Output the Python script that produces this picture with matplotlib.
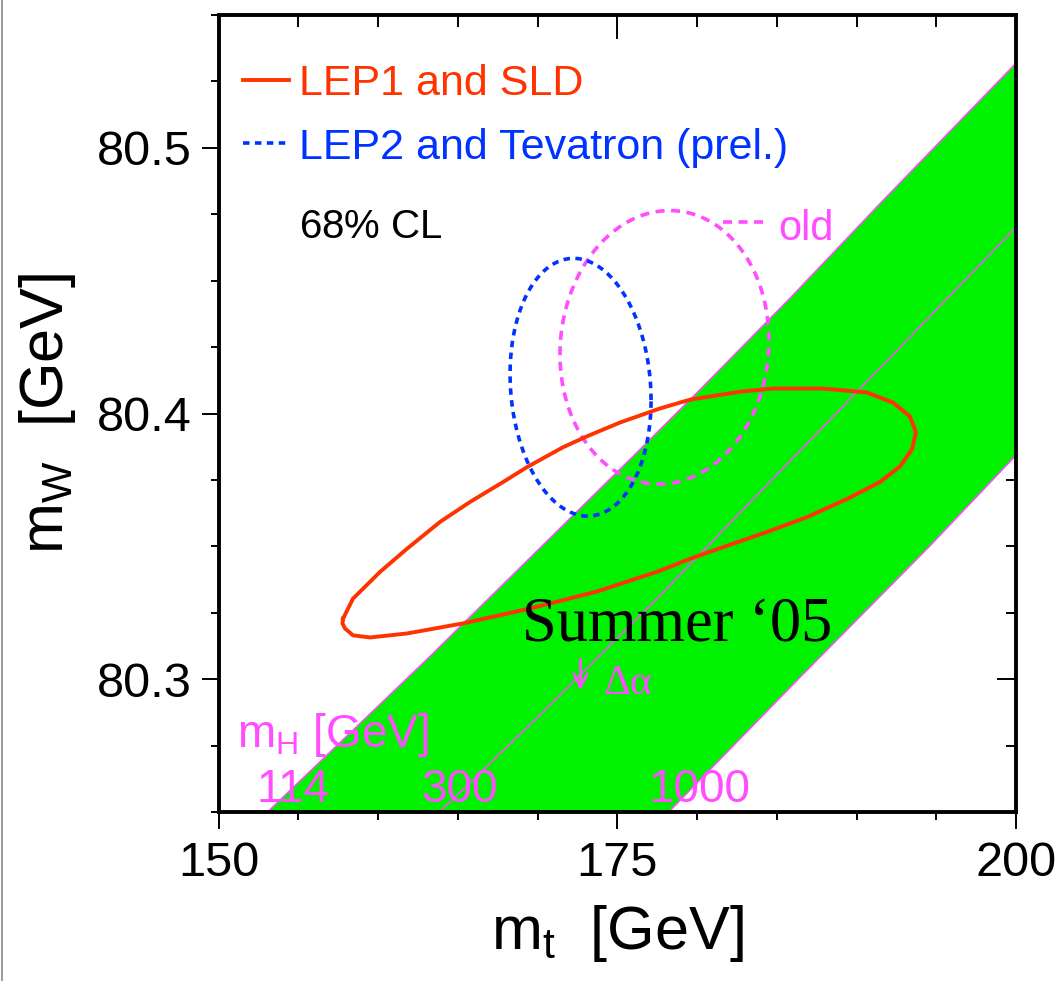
import numpy as np
import matplotlib
matplotlib.use("Agg")
import matplotlib.pyplot as plt
from matplotlib.lines import Line2D
from matplotlib.ticker import MultipleLocator

plt.rcParams['font.family'] = ['Liberation Sans', 'DejaVu Sans']
plt.rcParams['mathtext.fontset'] = 'custom'
plt.rcParams['mathtext.rm'] = 'Liberation Sans'
plt.rcParams['mathtext.it'] = 'Liberation Serif:italic'

# =====================================================
# DATA
# =====================================================

# SM band edges, m_H = 114 / 300 / 1000 GeV
mh114_mt = [152.2, 153.23, 163.26, 176.43, 180.19, 185.83, 191.47, 199.94, 201.0]
mh114_mw = [80.245, 80.2509, 80.3086, 80.3865, 80.4090, 80.4434, 80.4790, 80.5315, 80.538]

mh300_mt = [163.0, 164.01, 169.97, 177.68, 191.97, 199.94, 201.0]
mh300_mw = [80.245, 80.2509, 80.2854, 80.3315, 80.4202, 80.4697, 80.4763]

mh1000_mt = [177.4, 178.37, 186.46, 194.61, 199.94, 201.0]
mh1000_mw = [80.245, 80.2509, 80.3007, 80.3502, 80.3839, 80.3902]

# LEP1 and SLD 68% contour
lep1_mt = [157.81, 158.43, 160.13, 161.82, 163.89, 165.77, 167.84, 169.34,
           171.60, 173.10, 175.17, 177.68, 179.56, 182.70, 184.76, 187.90,
           190.66, 192.29, 193.35, 193.73, 193.48, 192.73, 191.47, 189.40,
           186.90, 184.39, 181.88, 179.56, 177.68, 173.73, 169.53, 165.33,
           161.82, 159.50, 158.43, 157.93, 157.77, 157.81]
lep1_mw = [80.3228, 80.3303, 80.3404, 80.3491, 80.3592, 80.3667, 80.3742, 80.3798,
           80.3873, 80.3914, 80.3966, 80.4019, 80.4052, 80.4082, 80.4094, 80.4094,
           80.4079, 80.4041, 80.3989, 80.3929, 80.3865, 80.3801, 80.3742, 80.3678,
           80.3610, 80.3554, 80.3502, 80.3453, 80.3408, 80.3330, 80.3266, 80.3210,
           80.3172, 80.3157, 80.3165, 80.3191, 80.3210, 80.3228]

# LEP2 and Tevatron: central values, 68% half widths, correlation
lep2_center = [172.70, 80.4099]
lep2_halfwidth = [4.42, 0.0485]
lep2_rho = -0.10

# previous result ("old")
old_center = [177.96, 80.4249]
old_halfwidth = [6.55, 0.0515]
old_rho = 0.05

mt_ticks = [150, 175, 200]
mw_ticks = [80.3, 80.4, 80.5]

mh_labels = ['114', '300', '1000']
mh_label_mt = [154.67, 165.08, 180.13]

RED = '#ff3300'
BLUE = '#0033ff'
MAGENTA = '#ff4dff'
GREEN = '#00f200'


def ellipse(center, half, rho):
    t = np.linspace(0, 2 * np.pi, 400)
    x = center[0] + half[0] * np.cos(t)
    y = center[1] + half[1] * (rho * np.cos(t) + np.sqrt(1 - rho ** 2) * np.sin(t))
    return x, y


# =====================================================
# FIGURE / AXES
# =====================================================

fig = plt.figure(figsize=(10.62, 9.81), dpi=100)
fig.patch.set_facecolor('white')

ax = fig.add_axes([218.5 / 1062, 1 - 812 / 981, (1016 - 218.5) / 1062, (812 - 15) / 981])

# inward ticks on top / right sit underneath the band
axt = ax.twiny()
axr = ax.twinx()
for a in (axt, axr):
    a.set_zorder(1)
    for s in a.spines.values():
        s.set_visible(False)
ax.set_zorder(3)
ax.patch.set_visible(False)

axt.set_xticks(mt_ticks)
axt.xaxis.set_minor_locator(MultipleLocator(5))
axt.tick_params(axis='x', which='major', direction='in', length=17, width=1.4,
                top=True, bottom=False, labeltop=False, labelbottom=False)
axt.tick_params(axis='x', which='minor', direction='in', length=8.5, width=1.4,
                top=True, bottom=False)

axr.set_yticks(mw_ticks)
axr.yaxis.set_minor_locator(MultipleLocator(0.025))
axr.tick_params(axis='y', which='major', direction='in', length=14, width=1.4,
                right=True, left=False, labelright=False, labelleft=False)
axr.tick_params(axis='y', which='minor', direction='in', length=7.5, width=1.4,
                right=True, left=False)

ax.set_xticks(mt_ticks)
ax.set_yticks(mw_ticks)
ax.xaxis.set_minor_locator(MultipleLocator(5))
ax.yaxis.set_minor_locator(MultipleLocator(0.025))
ax.tick_params(which='major', direction='out', length=12, width=1.4,
               top=False, right=False, labelsize=35)
ax.tick_params(which='minor', direction='out', length=6, width=1.4,
               top=False, right=False)
ax.tick_params(axis='x', pad=9)
ax.tick_params(axis='y', pad=7)

ax.set_xlim(150, 200)
ax.set_ylim(80.25, 80.55)
axt.set_xlim(150, 200)
axr.set_ylim(80.25, 80.55)

for s in ax.spines.values():
    s.set_linewidth(2.8)

ax.set_xlabel(r'$\mathregular{m_t}$  [GeV]', fontsize=44, labelpad=12)
ax.set_ylabel(r'$\mathregular{m_W}$  [GeV]', fontsize=44, labelpad=14)

# =====================================================
# SM BAND
# =====================================================

ax.fill(np.r_[mh114_mt, mh1000_mt[::-1]], np.r_[mh114_mw, mh1000_mw[::-1]],
        color=GREEN, lw=0, zorder=1)
for mt, mw in ((mh114_mt, mh114_mw), (mh300_mt, mh300_mw), (mh1000_mt, mh1000_mw)):
    ax.plot(mt, mw, color=MAGENTA, lw=1.1, zorder=1.5)

# =====================================================
# CONTOURS
# =====================================================

ox, oy = ellipse(old_center, old_halfwidth, old_rho)
ax.plot(ox, oy, color=MAGENTA, lw=2.6, linestyle=(0, (2.5, 1.8)), zorder=4)

bx, by = ellipse(lep2_center, lep2_halfwidth, lep2_rho)
ax.plot(bx, by, color=BLUE, lw=2.6, linestyle=(0, (1.8, 1.5)), zorder=5)

ax.plot(lep1_mt, lep1_mw, color=RED, lw=2.8, zorder=6, solid_joinstyle='round')

# =====================================================
# LEGEND AND LABELS
# =====================================================

ax.plot([151.54, 154.42], [80.5255, 80.5255], color=RED, lw=2.8, zorder=6)
ax.text(155.05, 80.5199, 'LEP1 and SLD', color=RED, fontsize=31, va='baseline')
ax.plot([151.54, 154.42], [80.5019, 80.5019], color=BLUE, lw=2.6,
        linestyle=(0, (1.8, 1.5)), zorder=6)
ax.text(155.05, 80.4959, 'LEP2 and Tevatron (prel.)', color=BLUE, fontsize=31,
        va='baseline')
ax.text(155.05, 80.4659, r'68$\mathit{\%}$ CL', color='black', fontsize=29,
        va='baseline')

ax.plot([181.63, 184.39], [80.4719, 80.4719], color=MAGENTA, lw=2.6,
        linestyle=(0, (2.5, 1.8)), zorder=4)
ax.text(185.08, 80.4652, 'old', color=MAGENTA, fontsize=30, va='baseline')

ax.text(169.0, 80.3146, 'Summer \u201805', family=['Liberation Serif', 'DejaVu Serif'],
        fontsize=45, color='black', va='baseline', zorder=8)

ax.annotate('', xy=(172.70, 80.2948), xytext=(172.70, 80.3086),
            arrowprops=dict(arrowstyle='->', color=MAGENTA, lw=2.0,
                            mutation_scale=24), zorder=8)
ax.text(174.11, 80.2944, '\u0394\u03b1', family=['Liberation Serif', 'DejaVu Serif'],
        fontsize=30, color=MAGENTA, va='baseline', zorder=8)

ax.text(151.16, 80.2745, r'$\mathregular{m_H}$ [GeV]', color=MAGENTA, fontsize=33,
        va='baseline', zorder=8)
for lab, mt in zip(mh_labels, mh_label_mt):
    ax.text(mt, 80.2536, lab, color=MAGENTA, fontsize=33, ha='center',
            va='baseline', zorder=8)

# page edge line on the left
fig.add_artist(Line2D([0.002, 0.002], [0, 1], transform=fig.transFigure,
                      color='#888888', lw=1.2))

fig.savefig('out.png', dpi=100)
